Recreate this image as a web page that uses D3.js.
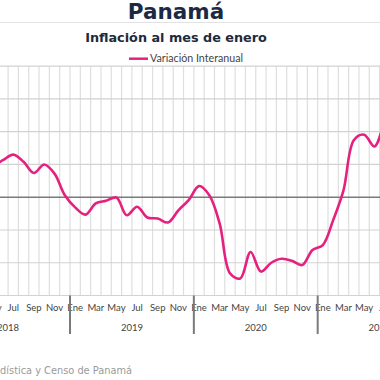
<!DOCTYPE html>
<html><head><meta charset="utf-8">
<script src="https://cdn.jsdelivr.net/npm/d3@7"></script>
<style>
html,body{margin:0;padding:0;background:#fff;}
svg{display:block;}
</style></head>
<body>
<svg id="chart" width="380" height="380"></svg>
<script>
// ---- data ----
const years = ["2018", "2019", "2020", "2021"];
const monthNames = ["Ene","Feb","Mar","Abr","May","Jun","Jul","Ago","Sep","Oct","Nov","Dic"];
// months shown (first index = Abr 2018)
const startIndex = 3;
const inflation = [0.85, 0.95, 1.13, 1.30, 1.08, 0.74, 1.00, 0.72, 0.06,
  -0.31, -0.53, -0.19, -0.11, -0.01, -0.55, -0.29, -0.62, -0.65, -0.77, -0.40, -0.09,
  0.34, 0.06, -0.80, -2.32, -2.48, -1.67, -2.27, -2.00, -1.88, -1.94, -2.07, -1.61,
  -1.46, -0.70, 0.21, 1.74, 1.91, 1.55, 2.4];
const yTicks = [-3, -2, -1, 0, 1, 2, 3, 4];
const seriesName = "Variación Interanual";
const title = "Panamá";
const subtitle = "Inflación al mes de enero";
const source = "Fuente: Instituto Nacional de Estadística y Censo de Panamá";

// ---- layout ----
const svg = d3.select("#chart");
const W = 380;
const bandW = 10.32;
const yearStartX = 70; // Ene 2019 boundary
const categories = [];
years.forEach(y => monthNames.forEach(m => categories.push(y + "-" + m)));

const x = d3.scaleBand()
  .domain(categories)
  .range([yearStartX - 12 * bandW, yearStartX + 36 * bandW])
  .paddingInner(0).paddingOuter(0);
const y = d3.scaleLinear().domain([-3, 4]).range([295.5, 66.2]);

const pink = "#E6207F";

// title
svg.append("text").attr("x", 176).attr("y", 18.5).attr("text-anchor", "middle")
  .attr("font-family", "DejaVu Sans").attr("font-weight", "bold").attr("font-size", 21.5)
  .attr("fill", "#1b2a44").text(title);
svg.append("line").attr("x1", 0).attr("x2", W).attr("y1", 22.5).attr("y2", 22.5)
  .attr("stroke", "#e2e2e2").attr("stroke-width", 1);
svg.append("text").attr("x", 176).attr("y", 41.7).attr("text-anchor", "middle")
  .attr("font-family", "DejaVu Sans").attr("font-weight", "bold").attr("font-size", 12.8)
  .attr("fill", "#1e2a3a").text(subtitle);

// legend
svg.append("line").attr("x1", 129).attr("x2", 148).attr("y1", 58.7).attr("y2", 58.7)
  .attr("stroke", pink).attr("stroke-width", 2.5);
svg.append("text").attr("x", 150).attr("y", 62).attr("font-family", "Lato")
  .attr("font-size", 10.7).attr("fill", "#444").text(seriesName);

// vertical grid
const g = svg.append("g");
g.selectAll("line.v").data(categories).enter().append("line")
  .attr("x1", d => x(d)).attr("x2", d => x(d))
  .attr("y1", y(4)).attr("y2", y(-3))
  .attr("stroke", "#dedede").attr("stroke-width", 1.2);
// horizontal grid
g.selectAll("line.h").data(yTicks).enter().append("line")
  .attr("x1", 0).attr("x2", W).attr("y1", d => y(d)).attr("y2", d => y(d))
  .attr("stroke", d => d === 0 ? "#7a7a7a" : "#d2d2d2")
  .attr("stroke-width", d => d === 0 ? 1.5 : 1.2);

// line
const pts = inflation.map((v, i) => ({cat: categories[startIndex + i], v}));
svg.append("path").datum(pts)
  .attr("d", d3.line().x(d => x(d.cat) + x.bandwidth() / 2).y(d => y(d.v)).curve(d3.curveCatmullRom))
  .attr("fill", "none").attr("stroke", pink).attr("stroke-width", 2.6)
  .attr("stroke-linejoin", "round");

// month axis (only labels that fall at least partly inside the view)
const monthTicks = categories.filter((c, i) => i % 2 === 0)
  .filter(c => { const cx = x(c) + x.bandwidth() / 2; return cx > -12 && cx < W + 12; });
const axis = d3.axisBottom(x).tickValues(monthTicks).tickSize(0).tickPadding(0)
  .tickFormat(d => d.split("-")[1]);
const ax = svg.append("g").attr("transform", "translate(0,304)").call(axis);
ax.select(".domain").remove();
ax.selectAll("text").attr("font-family", "Lato").attr("font-size", 9.5).attr("fill", "#444")
  .attr("dy", "0.72em");

// year separators & labels
svg.selectAll("line.sep").data(years).enter().append("line")
  .attr("x1", d => x(d + "-Ene")).attr("x2", d => x(d + "-Ene"))
  .attr("y1", 295.5).attr("y2", 334)
  .attr("stroke", "#7a7a7a").attr("stroke-width", 2);
svg.selectAll("text.yr").data(years).enter().append("text")
  .attr("x", d => x(d + "-Ene") + 6 * bandW)
  .attr("y", 331).attr("text-anchor", "middle")
  .attr("font-family", "Lato").attr("font-size", 9.5).attr("fill", "#444").text(d => d);

// source
svg.append("text").attr("x", 132).attr("y", 374).attr("text-anchor", "end")
  .attr("font-family", "DejaVu Sans").attr("font-size", 9.8).attr("fill", "#9a9a9a").text(source);
</script>
</body></html>
